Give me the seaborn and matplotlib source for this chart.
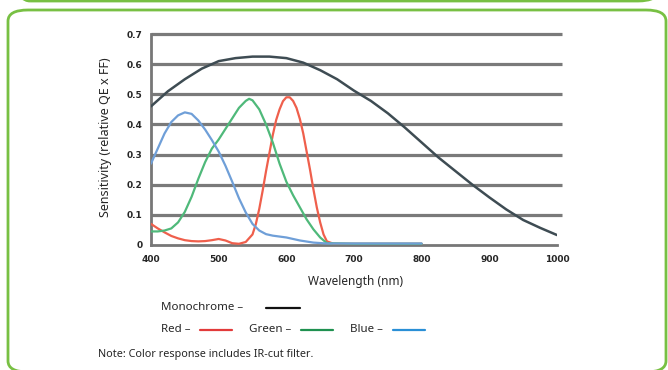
import matplotlib
matplotlib.use('Agg')
import matplotlib.pyplot as plt
import numpy as np
import pandas as pd
import seaborn as sns
from matplotlib.lines import Line2D
from matplotlib.patches import FancyBboxPatch

# wavelength (nm) / sensitivity
mono_nm = [400, 425, 450, 475, 500, 525, 550, 575, 600, 625, 650, 675, 700, 725, 750,
           775, 800, 825, 850, 875, 900, 925, 950, 975, 1000]
mono_val = [0.46, 0.51, 0.55, 0.585, 0.61, 0.62, 0.625, 0.625, 0.62, 0.605, 0.58, 0.55, 0.512,
            0.478, 0.437, 0.39, 0.34, 0.29, 0.245, 0.2, 0.158, 0.118, 0.083, 0.057, 0.033]

red_nm = [400, 410, 420, 430, 440, 450, 460, 470, 480, 490, 500, 510, 520, 530, 540, 550,
          555, 560, 565, 570, 575, 580, 585, 590, 595, 600, 605, 610, 615, 620, 625, 630,
          635, 640, 645, 650, 655, 660, 670, 700, 800]
red_val = [0.07, 0.055, 0.042, 0.03, 0.022, 0.016, 0.013, 0.012, 0.013, 0.016, 0.02, 0.015,
           0.006, 0.004, 0.01, 0.035, 0.07, 0.12, 0.18, 0.245, 0.305, 0.365, 0.415, 0.45,
           0.477, 0.49, 0.49, 0.478, 0.455, 0.418, 0.37, 0.31, 0.25, 0.185, 0.125, 0.075,
           0.035, 0.012, 0.004, 0.004, 0.004]

green_nm = [400, 410, 420, 430, 440, 450, 460, 470, 480, 490, 500, 510, 520, 530, 540, 545,
            550, 560, 570, 580, 590, 600, 610, 620, 630, 640, 650, 660, 700, 800]
green_val = [0.045, 0.045, 0.048, 0.055, 0.075, 0.11, 0.16, 0.22, 0.275, 0.32, 0.35, 0.385,
             0.42, 0.455, 0.478, 0.485, 0.48, 0.45, 0.4, 0.34, 0.27, 0.21, 0.165, 0.125, 0.085,
             0.052, 0.025, 0.006, 0.004, 0.004]

blue_nm = [400, 410, 420, 430, 440, 450, 460, 470, 480, 490, 500, 510, 520, 530, 540, 550,
           560, 570, 580, 590, 600, 620, 640, 660, 700, 800]
blue_val = [0.27, 0.32, 0.37, 0.408, 0.43, 0.44, 0.435, 0.413, 0.383, 0.348, 0.31, 0.263, 0.21,
            0.155, 0.108, 0.07, 0.048, 0.036, 0.031, 0.028, 0.025, 0.015, 0.008, 0.005, 0.005,
            0.005]

x_ticks = [400, 500, 600, 700, 800, 900, 1000]
y_ticks = [0, 0.1, 0.2, 0.3, 0.4, 0.5, 0.6, 0.7]

line_colors = {'Monochrome': '#3e4c53', 'Red': '#ef5f4c', 'Green': '#4fb97a', 'Blue': '#6f9fd8'}
key_colors = {'Monochrome': '#111111', 'Red': '#e23a3a', 'Green': '#1f9150', 'Blue': '#2a8fd6'}

sns.set_style('white')
plt.rcParams['font.family'] = ['Noto Sans', 'DejaVu Sans']

W, H = 668, 370
fig = plt.figure(figsize=(W / 100, H / 100), dpi=100)


def fx(x):
    return x / W


def fy(y):
    return 1 - y / H


# green rounded frames
fig.patches.append(FancyBboxPatch((fx(8), fy(372)), fx(658), fy(10) - fy(372),
                                  boxstyle='round,pad=0,rounding_size=0.03',
                                  transform=fig.transFigure, fill=False,
                                  edgecolor='#78c043', linewidth=2.0))
fig.patches.append(FancyBboxPatch((fx(10), fy(1)), fx(648), 0.2,
                                  boxstyle='round,pad=0,rounding_size=0.03',
                                  transform=fig.transFigure, fill=False,
                                  edgecolor='#78c043', linewidth=2.0))

ax = fig.add_axes([fx(151), fy(245), fx(557) - fx(151), fy(34) - fy(245)])

for yv in y_ticks[1:]:
    ax.hlines(yv, 400, 1008, color='#7a7a7a', lw=2.3, clip_on=False, zorder=1)

series = [('Monochrome', mono_nm, mono_val), ('Red', red_nm, red_val),
          ('Green', green_nm, green_val), ('Blue', blue_nm, blue_val)]
for name, xs, ys in series:
    df = pd.DataFrame({'nm': xs, 'val': ys})
    sns.lineplot(data=df, x='nm', y='val', ax=ax, color=line_colors[name],
                 lw=1.8 if name == 'Monochrome' else 1.6, zorder=3)

ax.set_xlim(400, 1000)
ax.set_ylim(0, 0.7)
ax.set_xticks(x_ticks)
ax.set_yticks(y_ticks)
ax.set_xticklabels([str(v) for v in x_ticks], fontsize=6.5, fontweight='bold',
                   family='DejaVu Sans')
ax.set_yticklabels(['0'] + [f'{v:.1f}' for v in y_ticks[1:]], fontsize=6.5,
                   fontweight='bold', family='DejaVu Sans')
ax.tick_params(axis='x', direction='out', length=5, width=1.5, color='#777777', pad=2)
ax.tick_params(axis='y', direction='out', length=4, width=1.5, color='#777777', pad=2)
for side in ['top', 'right']:
    ax.spines[side].set_visible(False)
for side in ['left', 'bottom']:
    ax.spines[side].set_color('#777777')
    ax.spines[side].set_linewidth(2.0)
ax.set_xlabel('')
ax.set_ylabel('')

fig.text(fx(105), fy(137), 'Sensitivity (relative QE x FF)', rotation=90, ha='center',
         va='center', fontsize=9)
fig.text(fx(355), fy(281), 'Wavelength (nm)', ha='center', va='center', fontsize=8.5)

# key below the chart
key = [('Monochrome –', 161, 307, 266, 300, 'Monochrome'),
       ('Red –', 161, 329, 200, 232, 'Red'),
       ('Green –', 249, 329, 301, 333, 'Green'),
       ('Blue –', 350, 329, 393, 425, 'Blue')]
for label, tx, ty, x0, x1, name in key:
    fig.text(fx(tx), fy(ty), label, ha='left', va='center', fontsize=8.3)
    fig.lines.append(Line2D([fx(x0), fx(x1)], [fy(ty + 1), fy(ty + 1)],
                            transform=fig.transFigure, color=key_colors[name], lw=1.6))

fig.text(fx(98), fy(355), 'Note: Color response includes IR-cut filter.', ha='left',
         va='center', fontsize=7.8)

fig.savefig('out.png', dpi=100)
